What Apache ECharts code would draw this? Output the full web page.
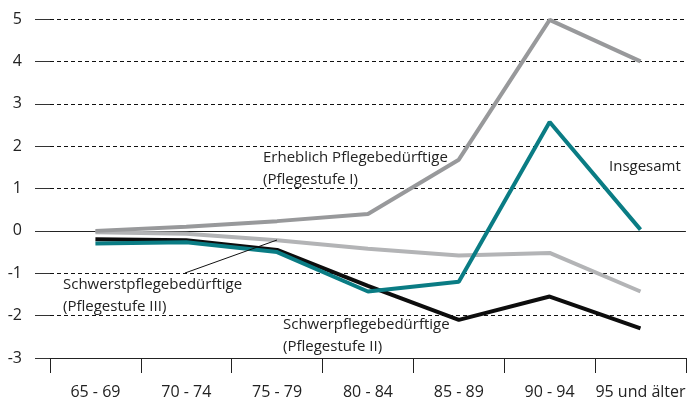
<!DOCTYPE html>
<html>
<head>
<meta charset="utf-8">
<script src="https://cdn.jsdelivr.net/npm/echarts@6/dist/echarts.min.js"></script>
<style>
  html, body { margin: 0; padding: 0; background: #fff; }
  #chart { width: 688px; height: 400px; }
</style>
</head>
<body>
<div id="chart"></div>
<script>
// Altersgruppen
const categories = ['65 - 69', '70 - 74', '75 - 79', '80 - 84', '85 - 89', '90 - 94', '95 und älter'];

// Veränderung in Prozentpunkten
const stufe1 = [0.0, 0.1, 0.23, 0.4, 1.68, 4.98, 4.0];       // Erheblich Pflegebedürftige
const stufe2 = [-0.2, -0.22, -0.45, -1.3, -2.1, -1.55, -2.3]; // Schwerpflegebedürftige
const stufe3 = [-0.03, -0.07, -0.22, -0.42, -0.58, -0.52, -1.43]; // Schwerstpflegebedürftige
const insgesamt = [-0.3, -0.27, -0.5, -1.43, -1.2, 2.57, 0.03];

const yTicks = { min: -3, max: 5, interval: 1 };

const textStyle = { fontFamily: 'Open Sans', fontSize: 15, fill: '#222', lineHeight: 22 };

const chart = echarts.init(document.getElementById('chart'));

function line(name, data, color, z) {
  return {
    name: name,
    type: 'line',
    data: data,
    symbol: 'none',
    z: z,
    lineStyle: { color: color, width: 4 },
    animation: false
  };
}

const option = {
  backgroundColor: '#fff',
  animation: false,
  grid: { left: 50, top: 19, bottom: 42, width: 644 },
  xAxis: {
    type: 'category',
    data: categories,
    boundaryGap: true,
    z: 5,
    axisLine: { show: true, onZero: false, lineStyle: { color: '#222', width: 1 } },
    axisTick: { show: true, length: 15, lineStyle: { color: '#222' } },
    axisLabel: { color: '#222', fontFamily: 'Open Sans', fontSize: 16, margin: 26, interval: 0 },
    splitLine: { show: false }
  },
  yAxis: {
    type: 'value',
    min: yTicks.min,
    max: yTicks.max,
    interval: yTicks.interval,
    axisLine: { show: false },
    axisTick: { show: true, length: 15, lineStyle: { color: '#333' } },
    axisLabel: { color: '#222', fontFamily: 'Open Sans', fontSize: 16, margin: 28 },
    splitLine: { show: true, lineStyle: { color: '#111', width: 1, type: [4, 3] } }
  },
  series: [
    line('Schwerstpflegebedürftige', stufe3, '#b3b4b6', 3),
    line('Schwerpflegebedürftige', stufe2, '#0d0d0d', 4),
    Object.assign(line('Insgesamt', insgesamt, '#0a7c84', 5), {
      markLine: {
        silent: true,
        symbol: 'none',
        label: { show: false },
        lineStyle: { color: '#222', width: 1, type: 'solid' },
        data: [{ yAxis: 0 }],
        z: 1
      }
    }),
    line('Erheblich Pflegebedürftige', stufe1, '#98999b', 6)
  ],
  graphic: [
    { type: 'text', left: 263, top: 147, style: Object.assign({ text: 'Erheblich Pflegebedürftige\n(Pflegestufe I)' }, textStyle) },
    { type: 'text', left: 609, top: 156, style: Object.assign({ text: 'Insgesamt' }, textStyle) },
    { type: 'text', left: 63, top: 274, style: Object.assign({ text: 'Schwerstpflegebedürftige\n(Pflegestufe III)' }, textStyle) },
    { type: 'text', left: 283, top: 314, style: Object.assign({ text: 'Schwerpflegebedürftige\n(Pflegestufe II)' }, textStyle) },
    { type: 'line', shape: { x1: 277, y1: 240, x2: 185, y2: 273 }, style: { stroke: '#111', lineWidth: 1 }, z: 10 }
  ]
};

chart.setOption(option);
</script>
</body>
</html>
